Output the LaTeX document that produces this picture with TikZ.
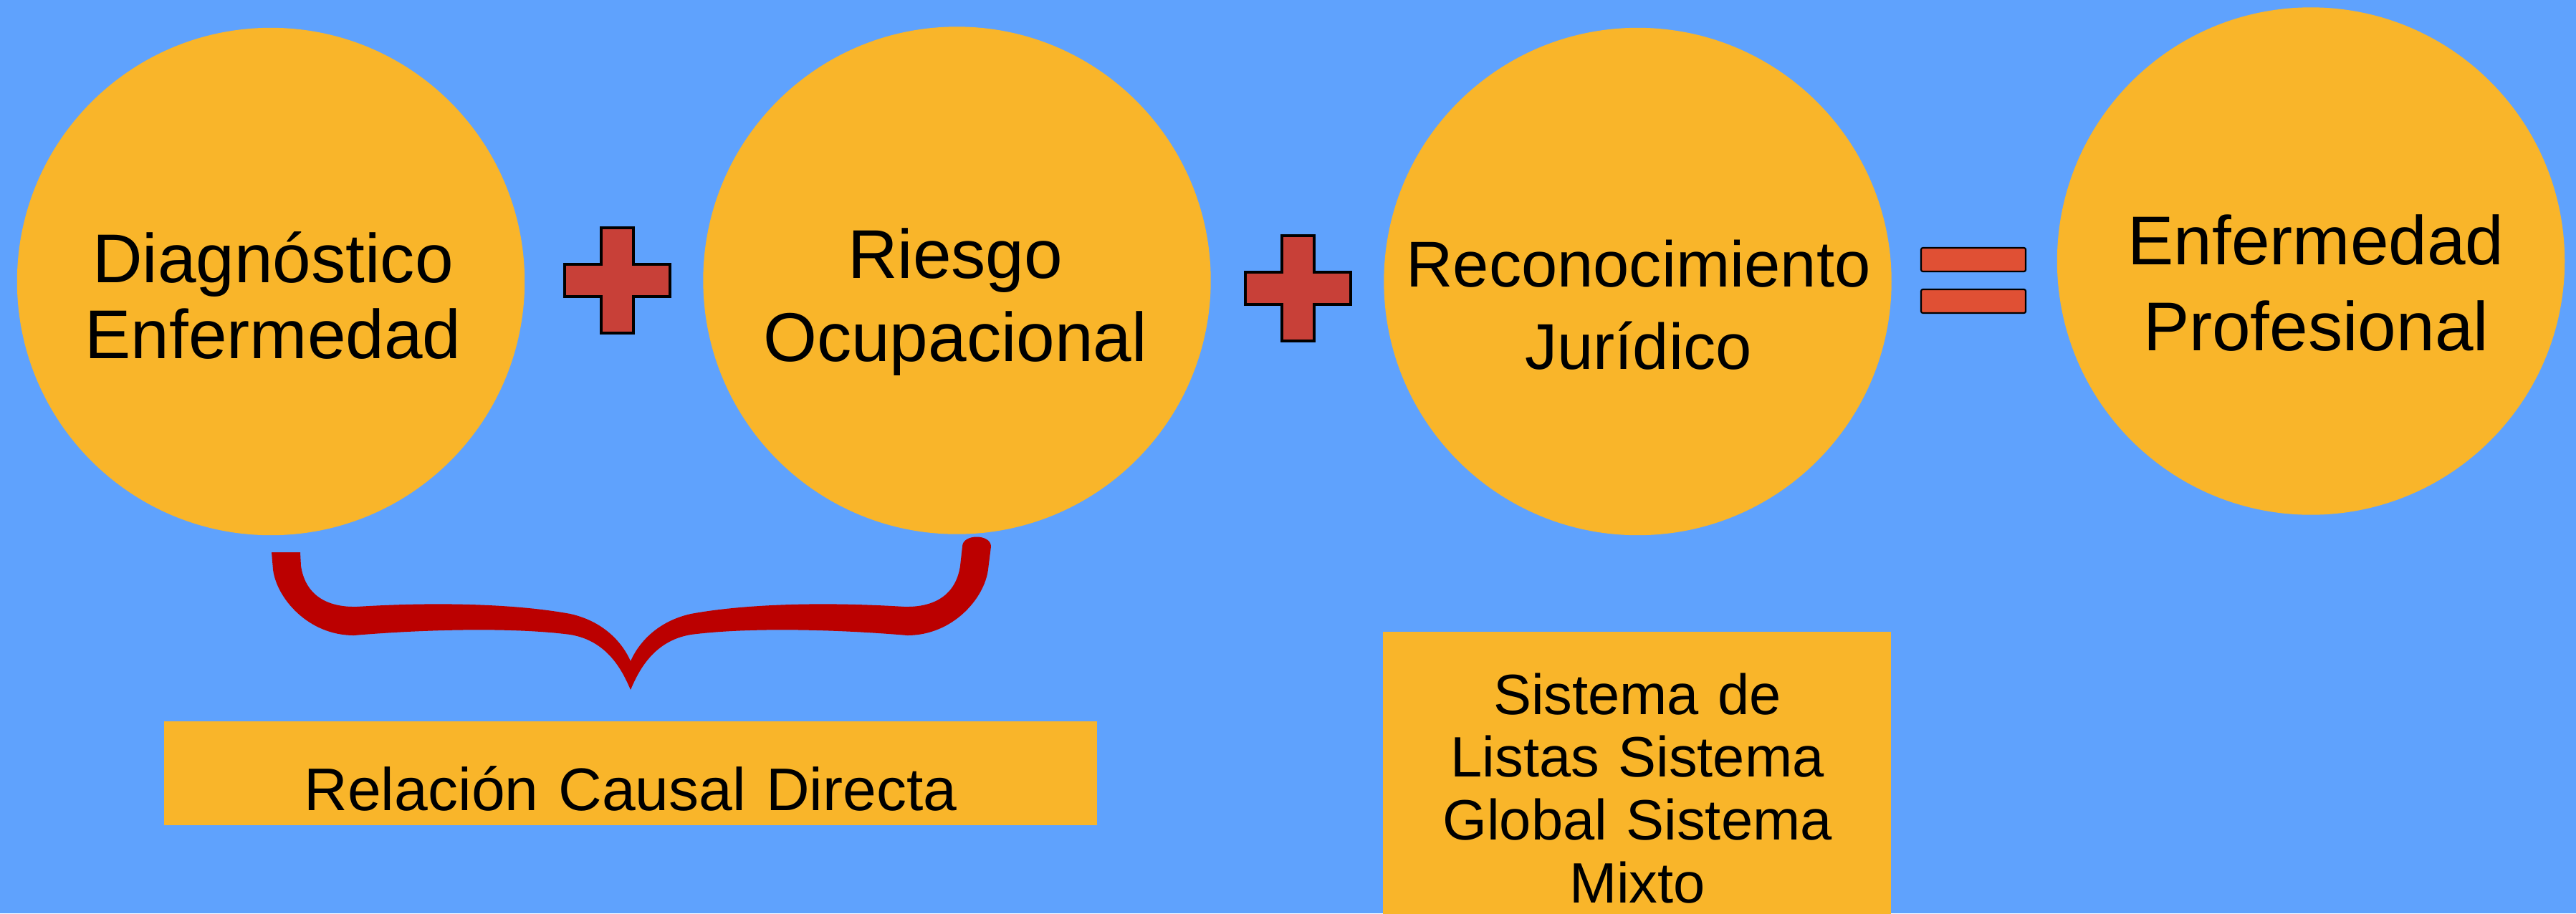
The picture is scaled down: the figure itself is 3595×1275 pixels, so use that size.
\documentclass[tikz,border=0pt]{standalone}
\usepackage{fontspec}
\setmainfont{Liberation Sans}
\definecolor{fondo}{HTML}{5FA2FD}
\definecolor{naranja}{HTML}{F9B52A}
\definecolor{rojomas}{HTML}{C84038}
\definecolor{rojoigual}{HTML}{E05034}
\definecolor{rojollave}{HTML}{BB0000}

\begin{document}
\begin{tikzpicture}[x=0.01cm,y=-0.01cm,
    bola/.style={circle,fill=naranja,minimum size=7.08cm,inner sep=0pt},
    caja/.style={rectangle,fill=naranja,inner sep=0pt},
    txt/.style={anchor=base,align=center,inner sep=0pt,text width=8cm},
    cruz/.style={fill=rojomas,draw=black,line width=1.1pt},
    igual/.style={fill=rojoigual,draw=black,line width=0.6pt,rounded corners=0.7pt},
    llave/.style={fill=rojollave}]
  \useasboundingbox (0,0) rectangle (3595,1275);
  \clip (0,0) rectangle (3595,1275);
  \fill[fondo] (0,0) rectangle (3595,1275);

  % circulos
  \node[bola] (de) at (378,393) {};
  \node[bola] (ro) at (1335.5,391.5) {};
  \node[bola] (rj) at (2285.5,393) {};
  \node[bola] (ep) at (3225,364.5) {};
  \node[txt,font=\fontsize{27.4pt}{30.3pt}\selectfont] (detxt) at (381,394)
    {Diagnóstico\\Enfermedad};
  \node[txt,font=\fontsize{27.4pt}{33pt}\selectfont] (rotxt) at (1333,388.8)
    {Riesgo\\Ocupacional};
  \node[txt,font=\fontsize{25.7pt}{32.6pt}\selectfont] (rjtxt) at (2286.5,400.5)
    {Reconocimiento\\Jurídico};
  \node[txt,font=\fontsize{27.4pt}{34pt}\selectfont] (eptxt) at (3232,369.6)
    {Enfermedad\\Profesional};

  % signos
  \draw[cruz] (788,369) -- ++(51,0) -- ++(0,-51) -- ++(45,0) -- ++(0,51)
    -- ++(51,0) -- ++(0,45) -- ++(-51,0) -- ++(0,51) -- ++(-45,0)
    -- ++(0,-51) -- ++(-51,0) -- cycle;
  \draw[cruz] (1738,380) -- ++(51,0) -- ++(0,-51) -- ++(45,0) -- ++(0,51)
    -- ++(51,0) -- ++(0,45) -- ++(-51,0) -- ++(0,51) -- ++(-45,0)
    -- ++(0,-51) -- ++(-51,0) -- cycle;
  \draw[igual] (2681,346) rectangle (2827,379);
  \draw[igual] (2681,404) rectangle (2827,437);

  % llave
  \fill[llave] (379,771) -- (381,795)
    .. controls (386,835) and (430,887) .. (494,887)
    .. controls (600,878) and (720,876) .. (796,886)
    .. controls (850,895) and (870,940) .. (880,963)
    .. controls (890,940) and (910,895) .. (964,886)
    .. controls (1040,876) and (1160,878) .. (1266,887)
    .. controls (1330,887) and (1374,835) .. (1379,795)
    -- (1383,763)
    .. controls (1383,745) and (1343,745) .. (1343,763)
    -- (1340,790)
    .. controls (1334,830) and (1305,848) .. (1262,847)
    .. controls (1150,840) and (1040,843) .. (964,857)
    .. controls (915,868) and (890,900) .. (880,923)
    .. controls (870,900) and (845,868) .. (796,857)
    .. controls (720,843) and (610,840) .. (498,847)
    .. controls (455,848) and (426,830) .. (420,790)
    -- (419,771) -- cycle;

  % cajas
  \node[caja,minimum width=13.02cm,minimum height=1.45cm] (rcd) at (880,1079.5) {};
  \node[txt,font=\fontsize{23.9pt}{29pt}\selectfont,text width=12cm] (rcdtxt) at (880,1131)
    {Relación Causal Directa};
  \node[caja,minimum width=7.09cm,minimum height=4.48cm] (sl) at (2284.5,1106) {};
  \node[txt,font=\fontsize{22.6pt}{24.95pt}\selectfont,text width=7cm] (sltxt) at (2285,997)
    {Sistema de\\Listas Sistema\\Global Sistema\\Mixto};
\end{tikzpicture}
\end{document}
